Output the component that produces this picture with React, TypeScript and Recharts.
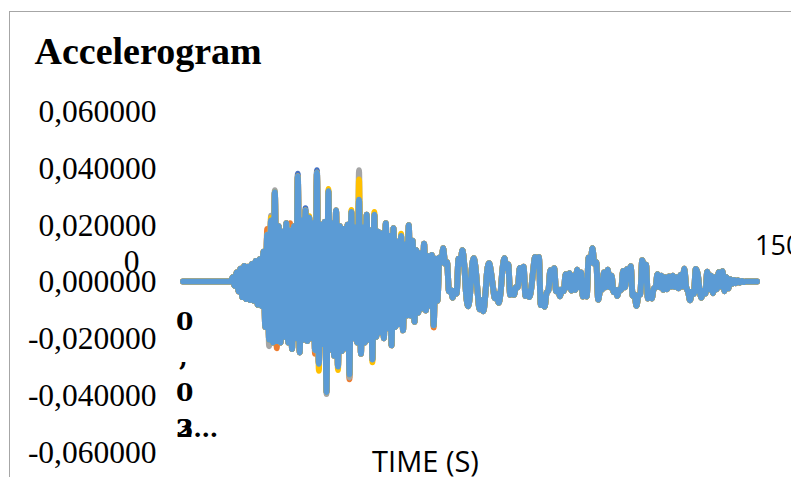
import React from 'react';
import { LineChart, Line, XAxis, YAxis } from 'recharts';

// ---------- data ----------
// acceleration record sampled every SAMPLE_STEP seconds, starting at t = 0
const SAMPLE_STEP = 0.5;

const ACCEL: number[] = [
  // 0.0 – 12.5 s : quiet
  0, 0, 0, 0, 0, 0, 0, 0, 0, 0, 0, 0, 0, 0, 0, 0, 0, 0, 0, 0, 0, 0, 0, 0, 0, 0,
  // 13.0 – 66.0 s : strong motion
  0.0015, -0.0015, 0.0032, -0.0035, 0.0045, -0.0055, 0.0055, -0.0062, 0.0052, -0.0065, 0.0062, -0.0068, 0.0072, -0.0082,
  0.0078, -0.0086, 0.0105, -0.016, 0.0165, -0.0205, 0.0215, -0.0215, 0.0315, -0.021, 0.0195, -0.0215, 0.0175, -0.0195,
  0.0205, -0.0215, 0.018, -0.0238, 0.0195, -0.02, 0.037, -0.025, 0.0215, -0.0205, 0.025, -0.021, 0.0225, -0.02,
  0.0205, -0.0242, 0.0383, -0.029, 0.02, -0.022, 0.021, -0.039, 0.0318, -0.024, 0.0205, -0.0262, 0.025, -0.03,
  0.0195, -0.0245, 0.0185, -0.0235, 0.02, -0.0328, 0.0245, -0.02, 0.019, -0.0215, 0.0288, -0.0255, 0.019, -0.0215,
  0.0235, -0.0205, 0.018, -0.0275, 0.0235, -0.0195, 0.0175, -0.018, 0.017, -0.02, 0.0205, -0.0165, 0.016, -0.0225,
  0.0188, -0.016, 0.014, -0.015, 0.016, -0.0172, 0.013, -0.012, 0.0198, -0.012, 0.0144, -0.0142, 0.011, -0.011,
  0.01, -0.0095, 0.0133, -0.0102, 0.009, -0.0085, 0.0093, -0.0154, 0.008,
  // 66.5 – 146.5 s : coda
  -0.0068,
  0.0085, 0.0067, 0.0117, 0.0062, 0.0068, -0.0034, -0.0031, -0.0057, -0.0033, -0.0042,
  0.008, 0.0063, 0.011, 0.0059, -0.0047, -0.0087, -0.0047, 0.0049, 0.0082, 0.0041,
  -0.0038, -0.0098, -0.0066, -0.0105, -0.0048, 0.0039, 0.0064, 0.0031, -0.0019, -0.0059,
  -0.0044, -0.0075, -0.0038, 0.0044, 0.0082, 0.0047, 0.006, -0.0047, -0.0031, -0.0047,
  -0.002, -0.002, 0.0048, 0.0033, 0.0052, -0.0051, -0.0034, -0.0055, -0.0025, 0.0037,
  0.0086, 0.0056, 0.0086, -0.0083, -0.0056, -0.0089, -0.0041, -0.003, 0.004, 0.0029,
  0.0047, -0.0034, -0.0028, -0.0052, -0.0028, -0.0034, 0.0026, -0.002, 0.0029, -0.0032,
  0.002, -0.003, 0.0041, -0.002, 0.0032, -0.0053, -0.0035, -0.0053, 0.0085, 0.0067,
  0.0117, 0.0062, 0.0068, -0.0064, -0.0031, -0.0028, 0.0032, -0.002, 0.0041, -0.002,
  0.002, -0.0037, -0.0029, -0.0051, -0.0028, -0.003, 0.0037, -0.002, 0.0043, 0.0032,
  0.0054, -0.005, -0.0046, -0.0086, -0.005, -0.0045, 0.0075, 0.0044, 0.0059, -0.006,
  -0.004, -0.006, -0.0026, -0.002, 0.0026, -0.002, 0.002, -0.0029, 0.0015, -0.0027,
  0.0018, -0.0018, 0.002, -0.0019, 0.0015, -0.0024, 0.0023, -0.0018, 0.0045, -0.002,
  -0.0036, -0.0066, -0.0036, -0.0043, 0.0044, 0.0027, -0.0031, -0.0057, -0.0033, -0.0042,
  0.0034, -0.0027, 0.002, -0.0041, 0.0015, -0.0027, 0.0033, -0.0018, 0.0036, -0.0034,
  0.0015, -0.0024, 0.0008, -0.0008, 0.0005, -0.0006, 0.0004, -0.0004, 0.0002, -0.0002,
  // 147.0 – 150.0 s : quiet
  0, 0, 0, 0, 0, 0, 0,
];

// peaks where the hidden series poke out beyond the top (light blue) series: [time, value]
const PEAKS_SERIES1: [number, number][] = [[30.0, 0.038], [35.0, 0.0392], [32.0, 0.0258]];
const PEAKS_SERIES2: [number, number][] = [
  [22.0, 0.0185], [24.5, -0.0235], [28.0, 0.0205], [34.5, -0.0255], [43.5, -0.0345], [65.5, -0.0162],
];
const PEAKS_SERIES3: [number, number][] = [
  [22.5, -0.0228], [23.0, 0.0232], [24.0, 0.0322], [37.5, -0.0397], [43.5, -0.0338], [46.0, 0.0392],
];
const PEAKS_SERIES4: [number, number][] = [
  [23.0, 0.0225], [33.0, 0.023], [35.5, -0.0315], [38.0, 0.0326], [40.5, -0.0312], [44.0, 0.0252],
  [46.0, 0.036], [49.5, -0.0285], [50.0, 0.0245], [57.0, 0.0168],
];
const PEAKS_SERIES5: [number, number][] = [];

const SERIES_NAMES = ['Series1', 'Series2', 'Series3', 'Series4', 'Series5'];
const SERIES_COLORS = ['#4472C4', '#ED7D31', '#A5A5A5', '#FFC000', '#5B9BD5'];
const SERIES_PEAKS = [PEAKS_SERIES1, PEAKS_SERIES2, PEAKS_SERIES3, PEAKS_SERIES4, PEAKS_SERIES5];

const Y_TICKS = [0.06, 0.04, 0.02, 0, -0.02, -0.04, -0.06];
const X_TICKS = [0, 0.5, 150];
const X_SECOND_LABEL = ['0', ',', '0', '3…'];
const TITLE = 'Accelerogram';
const X_TITLE = 'TIME (S)';

// ---------- build table ----------
const data = ACCEL.map((a, i) => {
  const t = i * SAMPLE_STEP;
  const row: Record<string, number> = { t };
  SERIES_PEAKS.forEach((peaks, k) => {
    const hit = peaks.find((p) => p[0] === t);
    row[SERIES_NAMES[k]] = hit ? hit[1] : a;
  });
  return row;
});

const fmtY = (v: number) => {
  const s = Math.abs(v).toFixed(6).replace('.', ',');
  return v < 0 ? '-' + s : s;
};

const YTick = (props: any) => {
  const { y, payload } = props;
  return (
    <text x={156.5} y={y + 10.8} textAnchor="end" fontFamily="'Liberation Serif', serif" fontSize={31.5} fill="#000">
      {fmtY(payload.value)}
    </text>
  );
};

const XTick = (props: any) => {
  const { x, payload } = props;
  const v = payload.value;
  if (v === 0) {
    return (
      <text x={x - 51.5} y={271.7} textAnchor="middle" fontFamily="'Liberation Serif', serif" fontSize={31.5} fill="#000">
        0
      </text>
    );
  }
  if (v === 150) {
    return (
      <text x={x - 2} y={255} textAnchor="start" fontFamily="'Open Sans', sans-serif" fontSize={27} fill="#000">
        150
      </text>
    );
  }
  const baseX = x - 9;
  return (
    <g fontFamily="'DejaVu Serif', serif" fontWeight="bold" fontSize={25} fill="#000">
      {X_SECOND_LABEL.map((ch, i) => (
        <text key={i} x={ch === ',' ? baseX + 3 : baseX} y={330 + i * 35.5} textAnchor="start">
          {ch}
        </text>
      ))}
      <text x={baseX} y={330 + 3 * 35.5} textAnchor="start">2</text>
    </g>
  );
};

export default function App() {
  return (
    <div style={{ position: 'fixed', left: 0, top: 0, width: 791, height: 477, overflow: 'hidden', background: '#fff' }}>
      <div
        style={{
          position: 'absolute', left: 9, top: 11, width: 900, height: 600,
          borderLeft: '1px solid #A6A6A6', borderTop: '1px solid #A6A6A6',
        }}
      />
      <div style={{ position: 'absolute', left: 0, top: 0 }}>
        <LineChart width={791} height={477} data={data} margin={{ top: 111.3, right: 34, bottom: 24.3, left: 8 }}>
          <XAxis
            dataKey="t" type="number" domain={[0, 150]} ticks={X_TICKS} interval={0}
            height={1} axisLine={false} tickLine={false} tick={<XTick />}
          />
          <YAxis
            type="number" domain={[-0.06, 0.06]} ticks={Y_TICKS} interval={0}
            width={175} axisLine={false} tickLine={false} tick={<YTick />}
          />
          {SERIES_NAMES.map((name, k) => (
            <Line
              key={name} type="monotone" dataKey={name} stroke={SERIES_COLORS[k]} strokeWidth={6}
              strokeLinecap="round" strokeLinejoin="round" dot={false} activeDot={false}
              isAnimationActive={false}
            />
          ))}
        </LineChart>
      </div>
      <svg width={791} height={477} style={{ position: 'absolute', left: 0, top: 0, pointerEvents: 'none' }}>
        <text x={34.5} y={64} fontFamily="'Liberation Serif', serif" fontWeight="bold" fontSize={38} fill="#000">
          {TITLE}
        </text>
        <text x={425.5} y={471.7} textAnchor="middle" fontFamily="'Open Sans', sans-serif" fontSize={29} fill="#000">
          {X_TITLE}
        </text>
      </svg>
    </div>
  );
}
